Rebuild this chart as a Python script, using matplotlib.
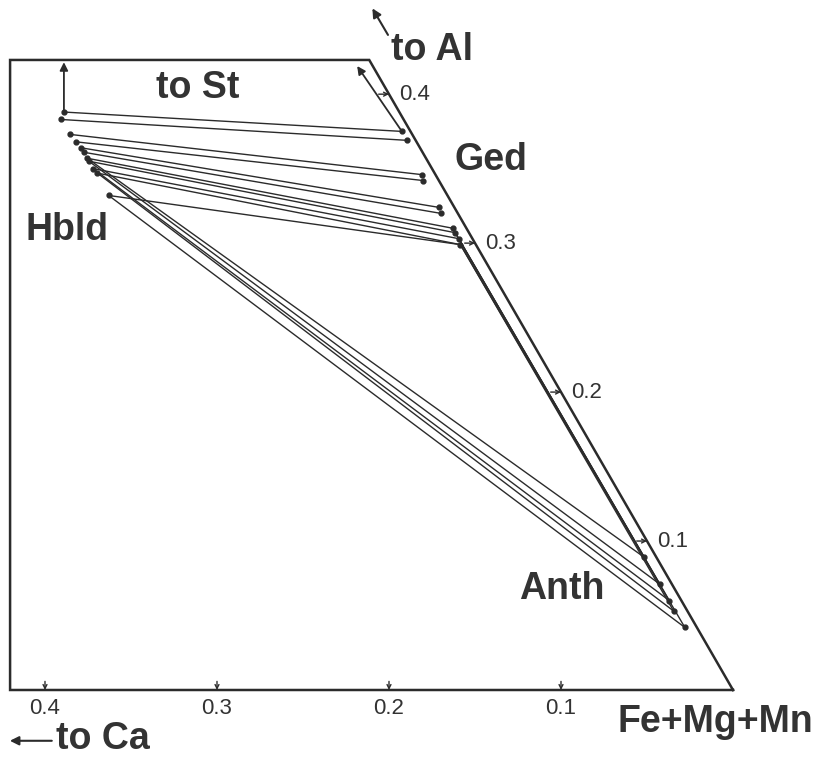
import matplotlib
matplotlib.use('Agg')
import matplotlib.pyplot as plt
import numpy as np

# atomic proportions: Ca and Al fractions (rest = Fe+Mg+Mn)
hbld_ca = [0.195, 0.199, 0.199, 0.198, 0.197, 0.197, 0.197, 0.197, 0.197, 0.196, 0.197]
hbld_al = [0.388, 0.383, 0.373, 0.368, 0.364, 0.361, 0.357, 0.355, 0.350, 0.347, 0.332]
ged_ca = [0.005, 0.005, 0.008, 0.009, 0.009, 0.010, 0.008, 0.008, 0.008, 0.009]
ged_al = [0.375, 0.369, 0.346, 0.342, 0.324, 0.320, 0.310, 0.307, 0.303, 0.299]
anth_ca = [0.007, 0.007, 0.007, 0.008, 0.007]
anth_al = [0.089, 0.071, 0.060, 0.053, 0.042]

# tie lines (index pairs)
hbld_ged = [(0, 0), (1, 1), (2, 2), (3, 3), (4, 4), (5, 5), (6, 6), (7, 7), (8, 8), (9, 9), (10, 9)]
hbld_anth = [(6, 0), (7, 1), (8, 2), (9, 3), (10, 4)]
ged_anth = [(6, 0), (7, 1), (8, 2), (9, 3), (9, 4)]

ca_ticks = [0.4, 0.3, 0.2, 0.1]
al_ticks = [0.1, 0.2, 0.3, 0.4]

ink = '#2b2b2b'
txt = '#333333'
font = 'Liberation Sans'


def to_xy(ca, al):
    ca = np.asarray(ca, dtype=float)
    al = np.asarray(al, dtype=float)
    return ca + al / 2, al * np.sqrt(3) / 2


fig = plt.figure(figsize=(8.22, 7.59), dpi=100)
ax = fig.add_axes([0, 0, 1, 1])
ax.set_xlim(0.42616, -0.05174)
ax.set_ylim(-0.04012, 0.40116)
ax.axis('off')

# outline of the part of the triangle that is shown
x_left, y_top = 0.4203, 0.3663
x_topright = y_top / np.sqrt(3)
ax.plot([0, x_left, x_left, x_topright, 0], [0, 0, y_top, y_top, 0],
        color=ink, lw=1.8, solid_joinstyle='miter')

hx, hy = to_xy(hbld_ca, hbld_al)
gx, gy = to_xy(ged_ca, ged_al)
ax_, ay = to_xy(anth_ca, anth_al)

for i, j in hbld_ged:
    ax.plot([hx[i], gx[j]], [hy[i], gy[j]], color=ink, lw=1.0)
for i, j in hbld_anth:
    ax.plot([hx[i], ax_[j]], [hy[i], ay[j]], color=ink, lw=1.0)
for i, j in ged_anth:
    ax.plot([gx[i], ax_[j]], [gy[i], ay[j]], color=ink, lw=1.0)

for xs, ys in [(hx, hy), (gx, gy), (ax_, ay)]:
    ax.plot(xs, ys, 'o', color=ink, ms=3.5, ls='none')

# arrows "to St"
arr = dict(arrowstyle='-|>', color=ink, lw=1.3, mutation_scale=12, shrinkA=0, shrinkB=0)
ax.annotate('', xy=(hx[0], 0.365), xytext=(hx[0], hy[0]), arrowprops=arr)
ax.annotate('', xy=(gx[0] + 0.026, gy[0] + 0.038), xytext=(gx[0], gy[0]), arrowprops=arr)

# ticks on the bottom (Ca) and right (Al) edges
small = dict(arrowstyle='->', color=ink, lw=1.0, mutation_scale=7, shrinkA=0, shrinkB=0)
for c in ca_ticks:
    ax.annotate('', xy=(c, 0), xytext=(c, 0.005), arrowprops=small)
    ax.text(c, -0.0105, f'{c:.1f}', ha='center', va='center', fontsize=16,
            family=font, color=txt)
for a in al_ticks:
    ex, ey = to_xy(0, a)
    ax.annotate('', xy=(ex, ey), xytext=(ex + 0.006, ey), arrowprops=small)
    ax.text(ex - 0.006, ey, f'{a:.1f}', ha='left', va='center', fontsize=16,
            family=font, color=txt)

labels = [('to St', 0.240, 0.884), ('to Al', 0.526, 0.934), ('Ged', 0.597, 0.789),
          ('Hbld', 0.082, 0.697), ('Anth', 0.684, 0.224), ('Fe+Mg+Mn', 0.870, 0.049),
          ('to Ca', 0.125, 0.027)]
for s, fx, fy in labels:
    ax.text(fx, fy, s, transform=ax.transAxes, ha='center', va='center',
            fontsize=27, fontweight='bold', family=font, color=txt)

big = dict(arrowstyle='-|>', color=ink, lw=1.5, mutation_scale=13, shrinkA=0, shrinkB=0)
ax.annotate('', xy=(0.453, 0.989), xytext=(0.472, 0.954), xycoords='axes fraction',
            textcoords='axes fraction', arrowprops=big)
ax.annotate('', xy=(0.012, 0.024), xytext=(0.063, 0.024), xycoords='axes fraction',
            textcoords='axes fraction', arrowprops=big)

fig.savefig('out.png', dpi=100, facecolor='white')
